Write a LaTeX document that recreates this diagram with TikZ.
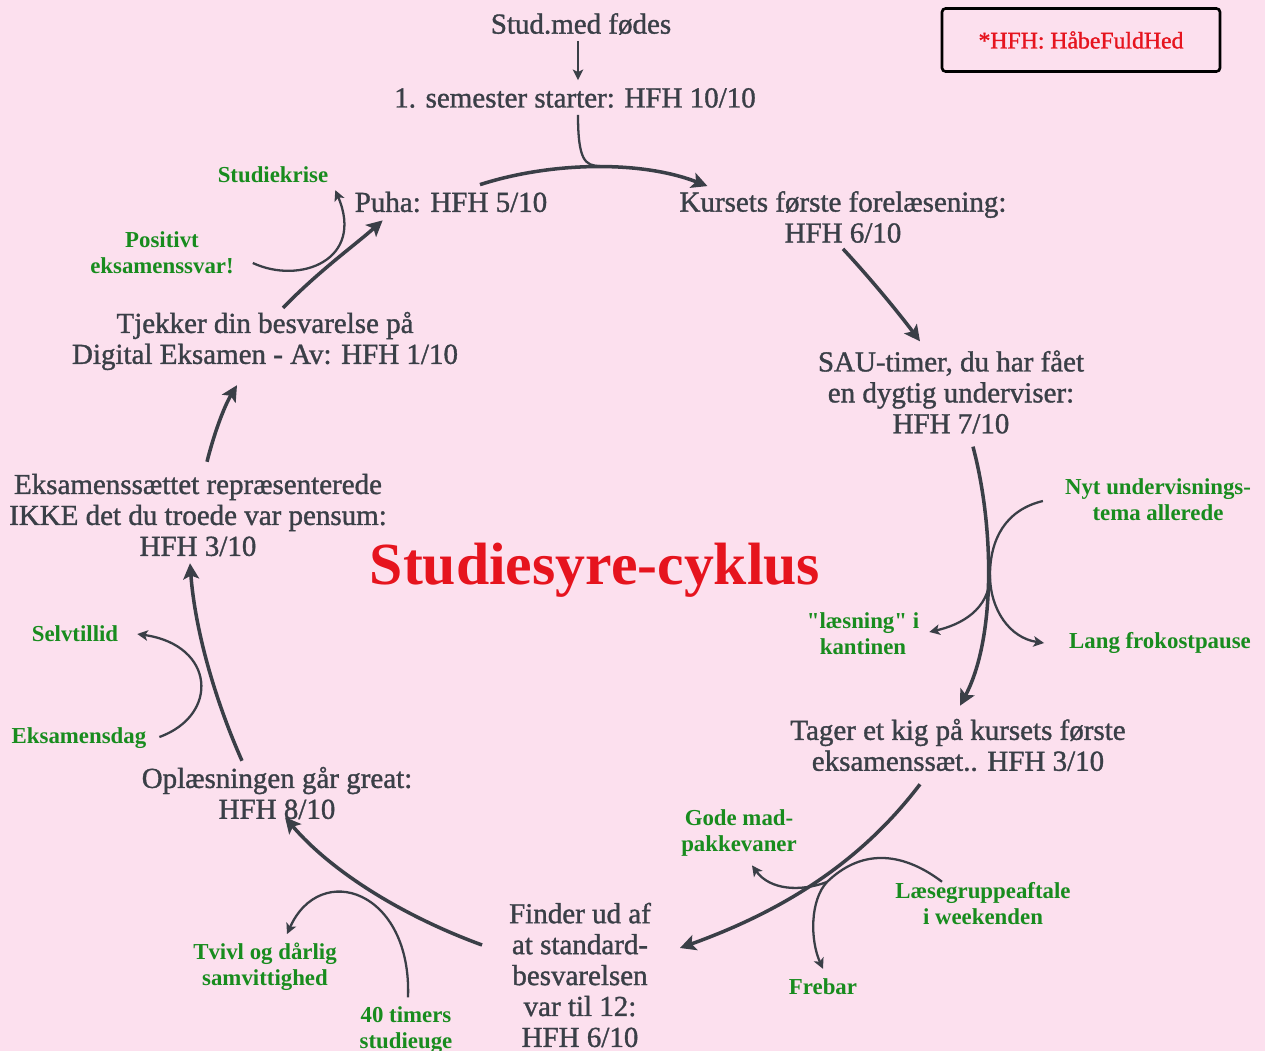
\documentclass[tikz,border=0pt]{standalone}
\usepackage{fontspec}
\setmainfont{Liberation Serif}
\newfontfamily\cyclefont{Liberation Serif}[FakeBold=1.2]
\newfontfamily\notefont{Liberation Serif}[Ligatures=TeXOff]
\usetikzlibrary{arrows.meta}

\definecolor{bgpink}{RGB}{252,224,238}
\definecolor{inkgray}{RGB}{58,63,71}
\definecolor{notegreen}{RGB}{24,140,30}
\definecolor{titlered}{RGB}{230,20,30}

\begin{document}
\begin{tikzpicture}[
    x=0.02cm, y=-0.02cm,
    stage/.style={align=center, inner sep=1pt, text=inkgray, font=\cyclefont\fontsize{16.5}{17.6}\selectfont},
    note/.style={align=center, inner sep=1pt, text=notegreen, font=\notefont\bfseries\fontsize{13}{14.8}\selectfont},
    flow/.style={draw=inkgray, line width=2pt, -{Stealth[length=9pt, width=9pt, inset=2pt]}},
    side/.style={draw=inkgray, line width=1.3pt, -{Stealth[length=6pt, width=6pt, inset=1.5pt]}},
    merge/.style={draw=inkgray, line width=1.3pt}
]

% Canvas
\fill[bgpink] (0,0) rectangle (1265,1051);
\useasboundingbox (0,0) rectangle (1265,1051);

% Cycle stages
\node[stage] (born) at (581,24) {Stud.med fødes};
\node[stage] (sem1) at (575,98) {1. semester starter: HFH 10/10};
\node[stage] (lect) at (843,217) {Kursets første forelæsening:\\HFH 6/10};
\node[stage] (sau) at (951,392) {SAU-timer, du har fået\\en dygtig underviser:\\HFH 7/10};
\node[stage] (look) at (958,745) {Tager et kig på kursets første\\eksamenssæt.. HFH 3/10};
\node[stage] (std) at (580,975) {Finder ud af\\at standard-\\besvarelsen\\var til 12:\\HFH 6/10};
\node[stage] (read) at (277,793) {Oplæsningen går great:\\HFH 8/10};
\node[stage] (exset) at (198,515) {Eksamenssættet repræsenterede\\IKKE det du troede var pensum:\\HFH 3/10};
\node[stage] (check) at (265,341) {Tjekker din besvarelse på\\Digital Eksamen - Av: HFH 1/10};
\node[stage] (puha) at (451,202) {Puha: HFH 5/10};

% Side notes
\node[note] (newtopic) at (1158,500) {Nyt undervisnings-\\tema allerede};
\node[note] (canteen) at (863,634) {"læsning" i\\kantinen};
\node[note] (lunch) at (1160,643) {Lang frokostpause};
\node[note] (food) at (739,833) {Gode mad-\\pakkevaner};
\node[note] (group) at (983,904) {Læsegruppeaftale\\i weekenden};
\node[note] (frebar) at (823,987) {Frebar};
\node[note] (doubt) at (265,967) {Tvivl og dårlig\\samvittighed};
\node[note] (week40) at (406,1030) {40 timers\\studieuge};
\node[note] (selfc) at (75,634) {Selvtillid};
\node[note] (exday) at (79,738) {Eksamensdag};
\node[note] (posans) at (162,253) {Positivt\\eksamenssvar!};
\node[note] (crisis) at (273,175) {Studiekrise};

% Title and key
\node[text=titlered, font=\bfseries\fontsize{34}{40}\selectfont] (title) at (595,570) {Studiesyre-cyklus};
\node[draw=black, line width=1.5pt, rounded corners=2pt, minimum width=5.56cm, minimum height=1.26cm,
      text=titlered, font=\cyclefont\fontsize{13.5}{16}\selectfont] (key) at (1081,40) {*HFH: HåbeFuldHed};

% Junctions
\coordinate (jtop) at (600,166);
\coordinate (jsau) at (990,575);
\coordinate (jlook) at (827,882);

% Main cycle
\draw[side] ([shift={(-3,4)}]born.south) -- ([shift={(3,-6)}]sem1.north);
\draw[merge] ([shift={(3,5)}]sem1.south) .. controls (578,160) and (585,166) .. (jtop);
\draw[flow] ([shift={(29,-5)}]puha.north) .. controls (550,162) and (640,160) .. ([shift={(30,-3)}]lect.north west);
\draw[flow] ([shift={(0,4)}]lect.south) .. controls (870,278) and (898,312) .. ([shift={(-31,-7)}]sau.north);
\draw[flow] ([shift={(22,11)}]sau.south) .. controls (995,530) and (995,640) .. ([shift={(2,-11)}]look.north);
\draw[flow] ([shift={(-38,11)}]look.south) .. controls (870,850) and (800,905) .. ([shift={(27,-27)}]std.east);
\draw[flow] ([shift={(-25,-30)}]std.west) .. controls (400,915) and (330,870) .. ([shift={(8,-4)}]read.south);
\draw[flow] ([shift={(-35,-4)}]read.north) .. controls (215,700) and (195,630) .. ([shift={(-8,5)}]exset.south);
\draw[flow] ([shift={(9,-10)}]exset.north) .. controls (215,430) and (225,405) .. ([shift={(-28,13)}]check.south);
\draw[flow] ([shift={(18,-2)}]check.north) .. controls (320,270) and (355,245) .. ([shift={(30,6)}]puha.south west);

% Side branches
\draw[merge] ([shift={(-20,1)}]newtopic.west) .. controls (1005,510) and (990,540) .. (jsau);
\draw[side] (jsau) .. controls (990,610) and (960,625) .. ([shift={(8,-2)}]canteen.east);
\draw[side] (jsau) .. controls (990,610) and (1010,638) .. ([shift={(-23,0)}]lunch.west);
\draw[merge] ([shift={(-41,1)}]group.north) .. controls (900,850) and (860,850) .. (jlook);
\draw[side] (jlook) .. controls (800,892) and (770,890) .. ([shift={(13,7)}]food.south);
\draw[side] (jlook) .. controls (810,900) and (810,940) .. ([shift={(0,-8)}]frebar.north);
\draw[side] ([shift={(2,-7)}]week40.north) .. controls (412,890) and (320,860) .. ([shift={(22,-7)}]doubt.north);
\draw[side] ([shift={(11,-1)}]exday.east) .. controls (220,715) and (215,645) .. ([shift={(17,0)}]selfc.east);
\draw[side] ([shift={(17,10)}]posans.east) .. controls (300,285) and (365,260) .. ([shift={(5,5)}]crisis.south east);

\end{tikzpicture}
\end{document}
